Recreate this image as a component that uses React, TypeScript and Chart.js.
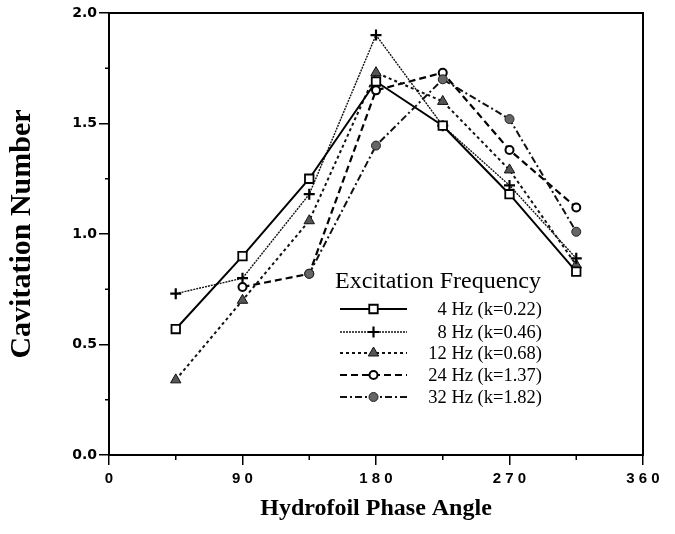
import React, { useEffect, useRef } from 'react';
import { Chart, registerables } from 'chart.js';
import { drawPoint } from 'chart.js/helpers';

Chart.register(...registerables);

// ---- data ----
const phaseAngles = [45, 90, 135, 180, 225, 270, 315];
const seriesLabels = ['4 Hz (k=0.22)', '8 Hz (k=0.46)', '12 Hz (k=0.68)', '24 Hz (k=1.37)', '32 Hz (k=1.82)'];
const hz4 = [0.57, 0.9, 1.25, 1.69, 1.49, 1.18, 0.83];
const hz8 = [0.73, 0.8, 1.18, 1.9, 1.49, 1.22, 0.89];
const hz12 = [0.34, 0.7, 1.06, 1.73, 1.6, 1.29, 0.86];
const hz24 = [null, 0.76, 0.82, 1.65, 1.73, 1.38, 1.12];
const hz32 = [null, null, 0.82, 1.4, 1.7, 1.52, 1.01];
const xTickValues = [0, 90, 180, 270, 360];
const xTickLabels = ['0', '9 0', '1 8 0', '2 7 0', '3 6 0'];
const yTickValues = [0, 0.5, 1.0, 1.5, 2.0];
const yTickLabels = ['0.0', '0.5', '1.0', '1.5', '2.0'];
const xMinorTicks = [45, 135, 225, 315];
const yMinorTicks = [0.25, 0.75, 1.25, 1.75];
const legendTitle = 'Excitation Frequency';
const xTitle = 'Hydrofoil Phase Angle';
const yTitle = 'Cavitation Number';

const toPoints = (vals: (number | null)[]) =>
  phaseAngles
    .map((x, i) => ({ x, y: vals[i] }))
    .filter((p) => p.y !== null) as { x: number; y: number }[];

const framePlugin = {
  id: 'frameAndLegend',
  afterDraw(chart: any) {
    const { ctx, chartArea, scales } = chart;
    const { left, right, top, bottom } = chartArea;
    const xs = scales.x;
    const ys = scales.y;
    ctx.save();
    ctx.strokeStyle = '#000';
    ctx.lineWidth = 2;
    ctx.setLineDash([]);
    ctx.beginPath();
    ctx.moveTo(left - 1, top);
    ctx.lineTo(right, top);
    ctx.lineTo(right, bottom + 1);
    ctx.stroke();
    // minor ticks
    ctx.lineWidth = 1.5;
    ctx.beginPath();
    xMinorTicks.forEach((v) => {
      const px = xs.getPixelForValue(v);
      ctx.moveTo(px, bottom);
      ctx.lineTo(px, bottom + 5);
    });
    yMinorTicks.forEach((v) => {
      const py = ys.getPixelForValue(v);
      ctx.moveTo(left, py);
      ctx.lineTo(left - 4, py);
    });
    ctx.stroke();

    // legend
    const lx0 = left + 231;
    const lx1 = left + 298;
    const textRight = left + 433;
    ctx.fillStyle = '#000';
    ctx.font = '24px "Liberation Serif"';
    ctx.textAlign = 'left';
    ctx.textBaseline = 'middle';
    ctx.fillText(legendTitle, left + 226, top + 269);
    const rowY = [296, 319, 340, 362, 384];
    chart.data.datasets.forEach((ds: any, i: number) => {
      const yy = top + rowY[i];
      ctx.save();
      ctx.strokeStyle = ds.borderColor;
      ctx.lineWidth = ds.borderWidth;
      ctx.setLineDash(ds.borderDash || []);
      ctx.beginPath();
      ctx.moveTo(lx0, yy);
      ctx.lineTo(lx1, yy);
      ctx.stroke();
      ctx.setLineDash([]);
      ctx.fillStyle = ds.pointBackgroundColor;
      ctx.strokeStyle = ds.pointBorderColor;
      ctx.lineWidth = ds.pointBorderWidth;
      drawPoint(ctx, { pointStyle: ds.pointStyle, radius: ds.pointRadius, borderWidth: ds.pointBorderWidth, rotation: 0 } as any, (lx0 + lx1) / 2, yy);
      ctx.restore();
      ctx.fillStyle = '#000';
      ctx.font = '18.5px "Liberation Serif"';
      ctx.textAlign = 'right';
      ctx.textBaseline = 'middle';
      ctx.fillText(ds.label, textRight, yy + 1);
    });
    ctx.restore();
  },
};

export default function App() {
  const ref = useRef<HTMLCanvasElement | null>(null);
  useEffect(() => {
    if (!ref.current) return;
    const chart = new Chart(ref.current, {
      type: 'line',
      data: {
        datasets: [
          {
            label: seriesLabels[0],
            data: toPoints(hz4),
            borderColor: '#000',
            borderWidth: 2,
            borderDash: [],
            pointStyle: 'rect',
            pointRadius: 6,
            pointBackgroundColor: '#fff',
            pointBorderColor: '#000',
            pointBorderWidth: 1.8,
            order: 2,
          },
          {
            label: seriesLabels[1],
            data: toPoints(hz8),
            borderColor: '#111',
            borderWidth: 1.4,
            borderDash: [2, 1],
            pointStyle: 'cross',
            pointRadius: 5.5,
            pointBackgroundColor: '#000',
            pointBorderColor: '#000',
            pointBorderWidth: 2.2,
            order: 3,
          },
          {
            label: seriesLabels[2],
            data: toPoints(hz12),
            borderColor: '#111',
            borderWidth: 2,
            borderDash: [3, 3],
            pointStyle: 'triangle',
            pointRadius: 6,
            pointBackgroundColor: '#555',
            pointBorderColor: '#111',
            pointBorderWidth: 1,
            order: 4,
          },
          {
            label: seriesLabels[3],
            data: toPoints(hz24),
            borderColor: '#000',
            borderWidth: 2.2,
            borderDash: [7, 4],
            pointStyle: 'circle',
            pointRadius: 4,
            pointBackgroundColor: '#fff',
            pointBorderColor: '#000',
            pointBorderWidth: 2,
            order: 5,
          },
          {
            label: seriesLabels[4],
            data: toPoints(hz32),
            borderColor: '#111',
            borderWidth: 2,
            borderDash: [7, 3, 2, 3],
            pointStyle: 'circle',
            pointRadius: 4.5,
            pointBackgroundColor: '#666',
            pointBorderColor: '#222',
            pointBorderWidth: 1,
            order: 1,
          },
        ] as any,
      },
      options: {
        responsive: false,
        animation: false,
        layout: { padding: { left: 0, right: 32, top: 13, bottom: 0 } },
        plugins: { legend: { display: false }, tooltip: { enabled: false } },
        elements: { line: { tension: 0, fill: false } },
        scales: {
          x: {
            type: 'linear',
            min: 0,
            max: 360,
            afterFit: (s: any) => {
              s.height = 79;
            },
            afterBuildTicks: (s: any) => {
              s.ticks = xTickValues.map((v) => ({ value: v }));
            },
            ticks: {
              autoSkip: false,
              maxRotation: 0,
              padding: 5,
              color: '#000',
              font: { family: 'Liberation Sans', size: 15, weight: 'bold' },
              callback: (v: any) => {
                const i = xTickValues.indexOf(Number(v));
                return i >= 0 ? xTickLabels[i] : '';
              },
            },
            grid: { drawOnChartArea: false, drawTicks: true, tickLength: 10, color: '#000', lineWidth: 1.5 },
            border: { display: true, color: '#000', width: 2 },
            title: {
              display: true,
              text: xTitle,
              color: '#000',
              font: { family: 'Liberation Serif', size: 24, weight: 'bold' },
              padding: { top: 0, bottom: 11 },
            },
          },
          y: {
            type: 'linear',
            min: 0,
            max: 2,
            afterFit: (s: any) => {
              s.width = 109;
            },
            afterBuildTicks: (s: any) => {
              s.ticks = yTickValues.map((v) => ({ value: v }));
            },
            ticks: {
              autoSkip: false,
              padding: 2,
              color: '#000',
              font: { family: 'DejaVu Sans', size: 14, weight: 'bold' },
              callback: (v: any) => {
                const i = yTickValues.indexOf(Number(v));
                return i >= 0 ? yTickLabels[i] : '';
              },
            },
            grid: { drawOnChartArea: false, drawTicks: true, tickLength: 10, color: '#000', lineWidth: 1.5 },
            border: { display: true, color: '#000', width: 2 },
            title: {
              display: true,
              text: yTitle,
              color: '#000',
              font: { family: 'Liberation Serif', size: 30, weight: 'bold' },
              padding: { top: 4, bottom: 0 },
            },
          },
        },
      } as any,
      plugins: [framePlugin],
    });
    return () => chart.destroy();
  }, []);
  return (
    <div style={{ position: 'fixed', left: 0, top: 0, width: 675, height: 534, background: '#fff' }}>
      <canvas ref={ref} width={675} height={534} style={{ display: 'block' }} />
    </div>
  );
}
